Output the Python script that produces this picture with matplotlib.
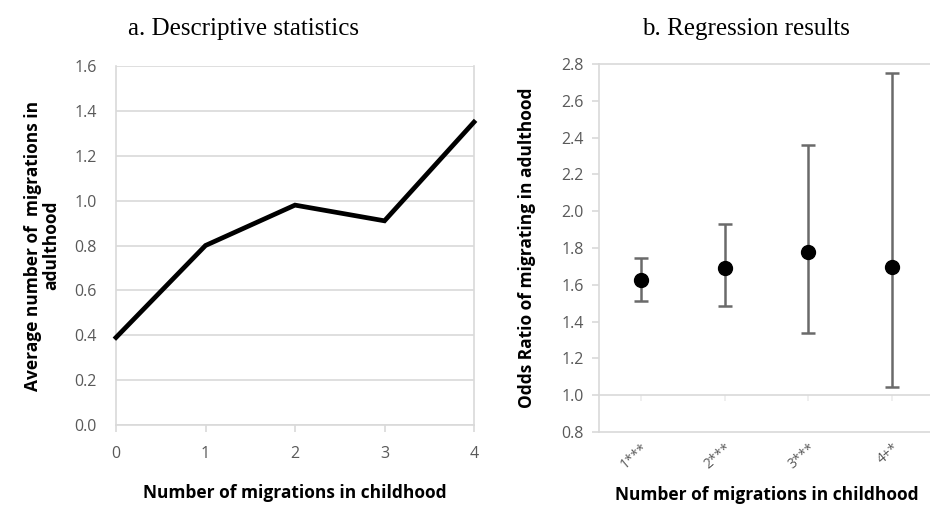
import matplotlib
matplotlib.use("Agg")
import matplotlib.pyplot as plt

# Panel a data
childhood_moves = [0, 1, 2, 3, 4]
avg_adult_moves = [0.39, 0.80, 0.98, 0.91, 1.35]

# Panel b data
categories = ["1***", "2***", "3***", "4+*"]
odds_ratio = [1.625, 1.69, 1.777, 1.697]
ci_low = [1.511, 1.484, 1.339, 1.045]
ci_high = [1.747, 1.933, 2.358, 2.749]

GRID = "#d9d9d9"
TICK = "#595959"
SANS = ["Open Sans", "DejaVu Sans"]
SERIF = ["Liberation Serif", "DejaVu Serif"]

fig = plt.figure(figsize=(9.3, 5.08), dpi=100)

# ---------- Panel a ----------
ax1 = fig.add_axes([116/930, 1-425/508, (474-116)/930, (425-66)/508])
ax1.plot(childhood_moves, avg_adult_moves, color="black", lw=3.4, solid_joinstyle="miter", clip_on=False, zorder=3)
ax1.set_xlim(0, 4)
ax1.set_ylim(0, 1.6)
yt1 = [0.0, 0.2, 0.4, 0.6, 0.8, 1.0, 1.2, 1.4, 1.6]
ax1.set_yticks(yt1)
ax1.set_yticklabels([f"{v:.1f}" for v in yt1], fontfamily=SANS, fontsize=11.5, color=TICK)
ax1.set_xticks(childhood_moves)
ax1.set_xticklabels([str(v) for v in childhood_moves], fontfamily=SANS, fontsize=11.5, color=TICK)
ax1.grid(axis="y", color=GRID, lw=1.2)
ax1.set_axisbelow(True)
for s in ["left", "right", "bottom", "top"]:
    ax1.spines[s].set_color(GRID)
    ax1.spines[s].set_linewidth(1.2)
ax1.spines["top"].set_visible(False)
ax1.tick_params(axis="y", length=0, pad=14)
ax1.tick_params(axis="x", length=5, color=GRID, width=1.2, pad=10)
ax1.set_xlabel("Number of migrations in childhood", fontfamily=SANS, fontsize=12.5, fontweight="bold", labelpad=16)
ax1.set_ylabel("Average number of  migrations in\nadulthood", fontfamily=SANS, fontsize=12.5, fontweight="bold", labelpad=10, linespacing=1.0)
ax1.set_title("a. Descriptive statistics", fontfamily=SERIF, fontsize=18, pad=22, x=0.355)

# ---------- Panel b ----------
xpos = [i + 0.5 for i in range(len(categories))]
ax2 = fig.add_axes([599/930, 1-432/508, 335/930, (432-64)/508])
ax2.spines["bottom"].set_position(("data", 1.0))
yerr = [[o - l for o, l in zip(odds_ratio, ci_low)], [h - o for o, h in zip(odds_ratio, ci_high)]]
ax2.errorbar(xpos, odds_ratio, yerr=yerr, fmt="o", color="black", ms=10, ecolor="#6a6a6a",
             elinewidth=1.8, capsize=5, capthick=1.8, zorder=3)
ax2.set_xlim(0, 4)
ax2.set_ylim(0.8, 2.8)
yt2 = [0.8, 1.0, 1.2, 1.4, 1.6, 1.8, 2.0, 2.2, 2.4, 2.6, 2.8]
ax2.set_yticks(yt2)
ax2.set_yticklabels([f"{v:.1f}" for v in yt2], fontfamily=SANS, fontsize=11.5, color=TICK)
ax2.set_xticks(xpos)
ax2.set_xticklabels(categories, fontfamily=SANS, fontsize=10, color=TICK, rotation=40,
                    ha="right", va="top", rotation_mode="anchor")
for s in ["left", "bottom", "top"]:
    ax2.spines[s].set_color(GRID)
    ax2.spines[s].set_linewidth(1.2)
ax2.spines["right"].set_visible(False)
ax2.axhline(0.8, color=GRID, lw=1.2, clip_on=False)
ax2.tick_params(axis="y", length=5, color=GRID, width=1.2, pad=6)
ax2.tick_params(axis="x", length=4, color="#ececec", width=1.2, pad=29)
ax2.set_xlabel("Number of migrations in childhood", fontfamily=SANS, fontsize=12.5, fontweight="bold", labelpad=10)
ax2.set_ylabel("Odds Ratio of migrating in adulthood", fontfamily=SANS, fontsize=12.5, fontweight="bold", labelpad=18)
ax2.set_title("b. Regression results", fontfamily=SERIF, fontsize=18, pad=21, x=0.44)

fig.savefig("out.png", dpi=100)
